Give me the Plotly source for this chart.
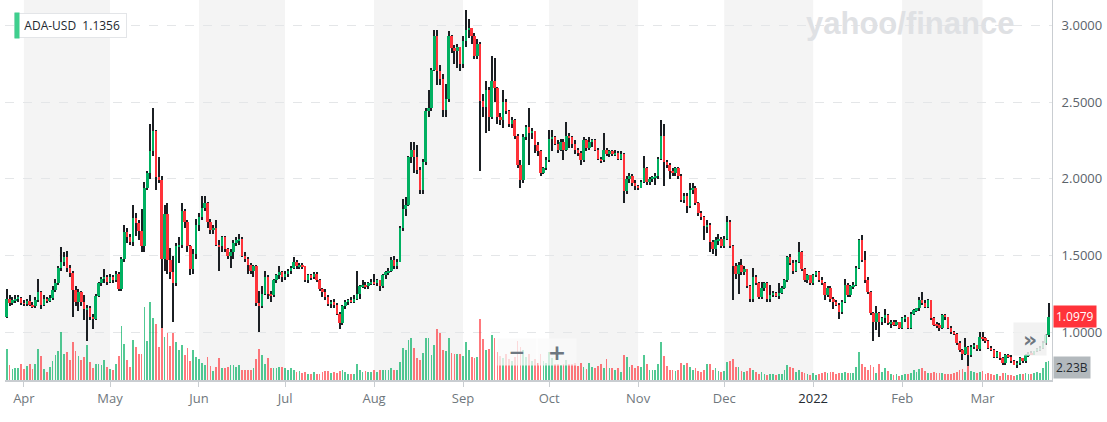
import pandas as pd
import plotly.graph_objects as go

# ---------------- data (ADA-USD daily, 2021-03-26 .. 2022-03-24) ----------------
START_DATE = "2021-03-26"
FIRST_OPEN = 1.10

closes = [
    1.215, 1.19, 1.21, 1.22, 1.225, 1.19, 1.185, 1.205, 1.18, 1.17,
    1.21, 1.26, 1.18, 1.22, 1.205, 1.225, 1.275, 1.32, 1.42, 1.46,
    1.49, 1.42, 1.385, 1.275, 1.195, 1.26, 1.20, 1.15, 1.16, 1.10,
    1.085, 1.235, 1.32, 1.35, 1.36, 1.33, 1.36, 1.34, 1.38, 1.28,
    1.475, 1.655, 1.62, 1.59, 1.745, 1.71, 1.66, 1.56, 1.94, 2.04,
    2.18, 2.31, 2.01, 1.99, 1.48, 1.77, 1.47, 1.39, 1.32, 1.56,
    1.57, 1.79, 1.72, 1.56, 1.41, 1.51, 1.70, 1.75, 1.81, 1.84,
    1.72, 1.665, 1.68, 1.57, 1.56, 1.62, 1.54, 1.50, 1.52, 1.58,
    1.60, 1.61, 1.50, 1.48, 1.44, 1.40, 1.43, 1.19, 1.17, 1.25,
    1.36, 1.25, 1.24, 1.34, 1.37, 1.39, 1.36, 1.38, 1.40, 1.42,
    1.46, 1.43, 1.44, 1.43, 1.34, 1.37, 1.36, 1.38, 1.34, 1.28,
    1.26, 1.23, 1.185, 1.20, 1.18, 1.12, 1.06, 1.17, 1.20, 1.21,
    1.20, 1.22, 1.25, 1.30, 1.31, 1.30, 1.32, 1.33, 1.32, 1.34,
    1.30, 1.37, 1.39, 1.40, 1.47, 1.43, 1.46, 1.68, 1.80, 1.83,
    2.14, 2.19, 2.14, 2.06, 1.93, 2.11, 2.44, 2.46, 2.71, 2.93,
    2.70, 2.65, 2.45, 2.52, 2.93, 2.85, 2.83, 2.86, 2.75, 2.90,
    2.97, 2.98, 2.93, 2.80, 2.88, 2.51, 2.47, 2.58, 2.40, 2.64,
    2.59, 2.40, 2.38, 2.50, 2.44, 2.36, 2.38, 2.28, 2.09, 1.99,
    2.27, 2.34, 2.30, 2.31, 2.22, 2.18, 2.04, 2.07, 2.12, 2.26,
    2.27, 2.23, 2.19, 2.24, 2.19, 2.28, 2.27, 2.23, 2.19, 2.17,
    2.12, 2.25, 2.20, 2.24, 2.25, 2.19, 2.13, 2.12, 2.19, 2.16,
    2.18, 2.16, 2.17, 2.13, 2.16, 1.92, 2.00, 2.02, 1.97, 1.95,
    1.94, 1.98, 2.07, 1.98, 2.00, 2.01, 2.02, 2.13, 2.28, 2.11,
    2.09, 2.05, 2.04, 2.07, 2.02, 1.86, 1.89, 1.82, 1.93, 1.94,
    1.84, 1.78, 1.75, 1.69, 1.70, 1.59, 1.54, 1.60, 1.61, 1.56,
    1.61, 1.72, 1.56, 1.43, 1.38, 1.44, 1.39, 1.41, 1.30, 1.215,
    1.36, 1.32, 1.23, 1.29, 1.32, 1.22, 1.24, 1.255, 1.235, 1.255,
    1.29, 1.34, 1.49, 1.45, 1.40, 1.46, 1.52, 1.41, 1.34, 1.37,
    1.32, 1.37, 1.39, 1.34, 1.32, 1.24, 1.29, 1.22, 1.20, 1.18,
    1.135, 1.20, 1.31, 1.24, 1.30, 1.31, 1.42, 1.60, 1.47, 1.34,
    1.265, 1.125, 1.07, 1.125, 1.07, 1.09, 1.11, 1.06, 1.07, 1.05,
    1.07, 1.03, 1.09, 1.10, 1.03, 1.12, 1.145, 1.155, 1.21, 1.19,
    1.165, 1.21, 1.09, 1.05, 1.045, 1.025, 1.11, 1.10, 1.03, 1.00,
    0.99, 0.93, 0.885, 0.86, 0.905, 0.85, 0.905, 0.915, 0.89, 0.97,
    0.96, 0.94, 0.90, 0.885, 0.84, 0.87, 0.83, 0.80, 0.85, 0.84,
    0.81, 0.79, 0.80, 0.83, 0.81, 0.85, 0.86, 0.855, 0.875, 0.89,
    0.90, 0.93, 0.98, 1.0979,
]

highs = [
    1.28, 1.24, 1.23, 1.24, 1.24, 1.23, 1.21, 1.22, 1.245, 1.20,
    1.23, 1.345, 1.27, 1.24, 1.23, 1.24, 1.30, 1.35, 1.43, 1.555,
    1.52, 1.53, 1.44, 1.40, 1.30, 1.28, 1.27, 1.24, 1.18, 1.17,
    1.12, 1.25, 1.33, 1.36, 1.41, 1.37, 1.38, 1.37, 1.40, 1.39,
    1.49, 1.70, 1.68, 1.64, 1.83, 1.78, 1.73, 1.80, 1.98, 2.05,
    2.36, 2.46, 2.32, 2.14, 2.02, 1.83, 1.84, 1.55, 1.50, 1.58,
    1.62, 1.84, 1.80, 1.73, 1.57, 1.54, 1.74, 1.78, 1.89, 1.89,
    1.85, 1.74, 1.70, 1.73, 1.60, 1.63, 1.63, 1.55, 1.54, 1.60,
    1.62, 1.64, 1.62, 1.52, 1.49, 1.45, 1.44, 1.44, 1.27, 1.30,
    1.40, 1.37, 1.27, 1.35, 1.38, 1.43, 1.40, 1.40, 1.41, 1.43,
    1.49, 1.47, 1.45, 1.45, 1.43, 1.38, 1.38, 1.39, 1.39, 1.35,
    1.29, 1.28, 1.24, 1.21, 1.22, 1.19, 1.13, 1.18, 1.21, 1.22,
    1.23, 1.24, 1.40, 1.31, 1.34, 1.33, 1.33, 1.35, 1.38, 1.35,
    1.34, 1.38, 1.40, 1.42, 1.49, 1.50, 1.48, 1.69, 1.87, 1.88,
    2.15, 2.24, 2.24, 2.22, 2.08, 2.13, 2.46, 2.58, 2.72, 2.97,
    2.97, 2.74, 2.68, 2.62, 2.96, 2.94, 2.87, 2.88, 2.86, 2.93,
    3.10, 3.04, 2.98, 2.95, 2.91, 2.89, 2.55, 2.64, 2.60, 2.80,
    2.79, 2.60, 2.43, 2.58, 2.52, 2.45, 2.40, 2.39, 2.29, 2.12,
    2.29, 2.35, 2.46, 2.33, 2.31, 2.24, 2.19, 2.08, 2.14, 2.32,
    2.32, 2.28, 2.25, 2.26, 2.26, 2.37, 2.30, 2.28, 2.25, 2.20,
    2.18, 2.27, 2.26, 2.27, 2.26, 2.26, 2.20, 2.14, 2.30, 2.20,
    2.19, 2.19, 2.19, 2.18, 2.18, 2.17, 2.02, 2.04, 2.03, 1.99,
    1.96, 1.99, 2.15, 2.08, 2.01, 2.02, 2.04, 2.14, 2.38, 2.36,
    2.12, 2.10, 2.07, 2.08, 2.08, 2.03, 1.91, 1.91, 1.97, 1.97,
    1.95, 1.85, 1.79, 1.76, 1.73, 1.71, 1.60, 1.62, 1.64, 1.62,
    1.63, 1.76, 1.73, 1.57, 1.45, 1.46, 1.48, 1.43, 1.41, 1.31,
    1.42, 1.37, 1.33, 1.33, 1.33, 1.33, 1.31, 1.27, 1.26, 1.32,
    1.30, 1.35, 1.50, 1.51, 1.47, 1.47, 1.59, 1.53, 1.42, 1.38,
    1.37, 1.38, 1.40, 1.40, 1.36, 1.33, 1.30, 1.30, 1.23, 1.21,
    1.19, 1.21, 1.35, 1.32, 1.31, 1.33, 1.43, 1.61, 1.635, 1.53,
    1.36, 1.27, 1.13, 1.17, 1.13, 1.10, 1.15, 1.12, 1.08, 1.08,
    1.08, 1.07, 1.10, 1.11, 1.10, 1.13, 1.15, 1.16, 1.23, 1.26,
    1.21, 1.22, 1.21, 1.10, 1.07, 1.06, 1.12, 1.12, 1.10, 1.04,
    1.01, 0.995, 0.94, 0.89, 0.96, 0.91, 0.92, 0.93, 0.92, 1.00,
    1.00, 0.97, 0.95, 0.91, 0.89, 0.88, 0.87, 0.84, 0.86, 0.86,
    0.85, 0.82, 0.81, 0.84, 0.83, 0.86, 0.87, 0.875, 0.88, 0.90,
    0.91, 0.945, 0.99, 1.19,
]

lows = [
    1.09, 1.17, 1.18, 1.19, 1.20, 1.18, 1.17, 1.17, 1.17, 1.16,
    1.16, 1.20, 1.15, 1.17, 1.19, 1.20, 1.21, 1.26, 1.31, 1.40,
    1.43, 1.39, 1.36, 1.10, 1.17, 1.14, 1.17, 1.08, 0.94, 1.08,
    1.02, 1.08, 1.23, 1.30, 1.32, 1.31, 1.32, 1.32, 1.33, 1.27,
    1.27, 1.46, 1.58, 1.57, 1.56, 1.63, 1.60, 1.52, 1.52, 1.93,
    2.00, 2.15, 1.93, 1.97, 1.03, 1.40, 1.38, 1.35, 1.07, 1.30,
    1.45, 1.55, 1.68, 1.52, 1.37, 1.38, 1.48, 1.66, 1.73, 1.79,
    1.68, 1.64, 1.64, 1.56, 1.40, 1.52, 1.52, 1.48, 1.42, 1.48,
    1.56, 1.57, 1.49, 1.46, 1.38, 1.38, 1.36, 1.17, 1.00, 1.16,
    1.24, 1.22, 1.20, 1.23, 1.32, 1.35, 1.33, 1.34, 1.36, 1.38,
    1.41, 1.41, 1.41, 1.41, 1.33, 1.32, 1.34, 1.35, 1.33, 1.27,
    1.23, 1.21, 1.17, 1.16, 1.16, 1.11, 1.02, 1.05, 1.15, 1.18,
    1.19, 1.19, 1.21, 1.22, 1.29, 1.28, 1.28, 1.31, 1.31, 1.30,
    1.27, 1.29, 1.35, 1.37, 1.39, 1.41, 1.41, 1.46, 1.66, 1.76,
    1.82, 2.10, 2.04, 2.03, 1.90, 1.90, 2.09, 2.40, 2.44, 2.70,
    2.61, 2.61, 2.40, 2.40, 2.50, 2.82, 2.75, 2.72, 2.70, 2.72,
    2.86, 2.92, 2.88, 2.78, 2.78, 2.05, 2.40, 2.30, 2.31, 2.39,
    2.50, 2.36, 2.35, 2.33, 2.42, 2.34, 2.33, 2.26, 2.07, 1.94,
    1.97, 2.25, 2.09, 2.26, 2.17, 2.15, 2.02, 2.03, 2.06, 2.11,
    2.18, 2.22, 2.17, 2.18, 2.12, 2.18, 2.20, 2.20, 2.16, 2.15,
    2.09, 2.11, 2.18, 2.19, 2.21, 2.18, 2.12, 2.10, 2.11, 2.15,
    2.14, 2.15, 2.15, 2.12, 2.12, 1.84, 1.90, 1.97, 1.95, 1.93,
    1.93, 1.94, 1.97, 1.96, 1.96, 1.98, 1.96, 2.00, 2.12, 1.95,
    2.07, 2.00, 2.02, 2.02, 2.00, 1.85, 1.84, 1.78, 1.81, 1.90,
    1.83, 1.76, 1.73, 1.60, 1.65, 1.52, 1.51, 1.50, 1.57, 1.55,
    1.55, 1.60, 1.55, 1.21, 1.35, 1.25, 1.37, 1.37, 1.29, 1.20,
    1.20, 1.31, 1.22, 1.22, 1.27, 1.20, 1.20, 1.23, 1.23, 1.22,
    1.25, 1.28, 1.33, 1.44, 1.38, 1.39, 1.45, 1.40, 1.33, 1.32,
    1.31, 1.31, 1.36, 1.33, 1.31, 1.21, 1.23, 1.20, 1.15, 1.17,
    1.085, 1.12, 1.19, 1.23, 1.23, 1.28, 1.30, 1.41, 1.46, 1.32,
    1.25, 1.11, 0.94, 1.015, 0.97, 1.05, 1.06, 1.05, 1.03, 1.04,
    1.04, 1.02, 1.02, 1.07, 1.02, 1.02, 1.11, 1.13, 1.14, 1.18,
    1.16, 1.16, 1.08, 1.04, 1.03, 1.01, 1.02, 1.08, 1.02, 0.99,
    0.98, 0.92, 0.87, 0.82, 0.85, 0.78, 0.84, 0.89, 0.88, 0.88,
    0.94, 0.93, 0.89, 0.88, 0.83, 0.83, 0.82, 0.79, 0.79, 0.83,
    0.80, 0.785, 0.77, 0.79, 0.80, 0.80, 0.84, 0.85, 0.85, 0.87,
    0.88, 0.89, 0.92, 0.97,
]

volumes_bn = [
    3.6, 1.75, 1.3, 1.4, 1.4, 1.85, 1.3, 1.65, 1.85, 1.25,
    1.8, 3.6, 2.75, 1.3, 0.95, 1.5, 2.2, 2.85, 3.4, 5.6,
    3.05, 3.25, 2.3, 4.35, 3.35, 2.8, 2.3, 2.6, 4.1, 2.05,
    1.4, 1.8, 1.8, 1.75, 2.3, 1.5, 1.3, 1.1, 1.8, 2.8,
    6.2, 4.2, 2.3, 1.5, 4.65, 3.8, 3.05, 3.05, 8.45, 4.45,
    9.0, 7.2, 6.5, 3.85, 9.6, 5.0, 5.4, 3.9, 5.4, 4.35,
    3.45, 4.0, 2.85, 3.75, 2.2, 3.45, 2.7, 2.4, 1.95, 1.7,
    2.7, 1.6, 1.0, 1.55, 2.5, 1.35, 1.35, 1.55, 1.7, 1.7,
    1.55, 1.7, 1.2, 1.1, 1.1, 1.15, 1.35, 2.4, 3.55, 2.9,
    1.9, 2.5, 1.35, 1.35, 1.35, 1.5, 1.55, 1.35, 1.2, 1.35,
    1.2, 0.95, 1.05, 0.85, 0.95, 0.7, 0.75, 0.95, 0.7, 0.75,
    0.95, 1.05, 1.05, 0.85, 0.95, 0.85, 1.08, 1.2, 0.95, 0.7,
    0.75, 0.75, 1.85, 1.15, 0.95, 1.05, 0.95, 0.95, 1.1, 0.95,
    1.1, 1.2, 1.15, 1.2, 1.35, 1.2, 1.1, 2.1, 3.65, 3.45,
    4.6, 4.8, 3.65, 2.5, 2.3, 3.1, 4.9, 4.9, 2.9, 4.0,
    5.85, 5.45, 3.45, 3.3, 4.8, 3.1, 3.0, 3.0, 3.0, 2.75,
    4.4, 3.45, 2.65, 2.5, 2.65, 7.0, 4.7, 3.5, 3.6, 5.2,
    4.8, 3.2, 2.8, 2.5, 3.0, 2.4, 2.2, 2.6, 4.5, 3.8,
    3.5, 2.6, 3.0, 2.2, 2.4, 2.0, 3.0, 2.2, 2.0, 3.2,
    2.5, 1.8, 1.9, 1.7, 1.8, 2.3, 1.8, 1.9, 2.0, 1.6,
    2.0, 1.55, 1.25, 2.0, 1.55, 1.35, 1.6, 1.8, 1.35, 2.4,
    1.4, 1.35, 1.15, 1.35, 0.95, 2.9, 2.7, 1.55, 1.75, 1.35,
    1.6, 1.55, 2.9, 1.9, 1.2, 1.2, 1.15, 1.9, 4.35, 2.8,
    1.6, 1.2, 1.15, 1.0, 1.2, 2.0, 1.75, 2.0, 1.55, 1.2,
    1.35, 1.0, 0.95, 1.2, 1.8, 1.8, 1.2, 1.35, 1.0, 0.95,
    1.0, 2.1, 2.2, 2.4, 1.55, 1.55, 1.0, 0.95, 1.0, 1.35,
    1.2, 0.95, 0.75, 0.95, 0.75, 0.6, 0.7, 0.7, 0.6, 0.7,
    0.75, 1.1, 1.75, 1.55, 1.35, 0.95, 1.15, 0.95, 0.77, 0.65,
    0.58, 0.77, 0.58, 0.69, 0.85, 0.96, 0.85, 0.96, 0.89, 0.69,
    0.85, 0.85, 0.96, 0.85, 0.77, 0.77, 1.55, 3.2, 1.9, 1.46,
    1.15, 1.73, 1.54, 0.77, 1.85, 0.96, 1.35, 1.08, 0.69, 0.58,
    0.69, 0.5, 0.58, 0.69, 0.65, 0.85, 1.15, 0.96, 1.23, 1.35,
    1.08, 0.85, 0.85, 0.96, 0.85, 0.77, 0.77, 0.69, 0.65, 0.69,
    0.77, 0.96, 1.15, 1.23, 0.96, 2.5, 1.04, 0.96, 0.85, 0.96,
    1.08, 0.69, 0.77, 0.69, 0.58, 0.65, 0.5, 0.77, 0.77, 0.58,
    0.58, 0.46, 0.58, 0.69, 0.65, 0.77, 0.69, 0.69, 0.77, 0.96,
    0.77, 1.35, 2.05, 2.23,
]

month_ticks = ["2021-04-01", "2021-05-01", "2021-06-01", "2021-07-01", "2021-08-01",
               "2021-09-01", "2021-10-01", "2021-11-01", "2021-12-01", "2022-01-01",
               "2022-02-01", "2022-03-01"]
month_labels = ["Apr", "May", "Jun", "Jul", "Aug", "Sep", "Oct", "Nov", "Dec",
                "<span style='color:#232a31'>2022</span>", "Feb", "Mar"]
shaded_months = [("2021-04-01", "2021-05-01"), ("2021-06-01", "2021-07-01"),
                 ("2021-08-01", "2021-09-01"), ("2021-10-01", "2021-11-01"),
                 ("2021-12-01", "2022-01-01"), ("2022-02-01", "2022-03-01")]
price_ticks = [1.0, 1.5, 2.0, 2.5, 3.0]
SYMBOL = "ADA-USD"
LEGEND_VALUE = "1.1356"
LAST_PRICE = closes[-1]
LAST_VOLUME_LABEL = "2.23B"

# ---------------- derived ----------------
dates = pd.date_range(START_DATE, periods=len(closes), freq="D")
# crypto trades around the clock: each daily candle opens at the prior close
opens = [FIRST_OPEN] + closes[:-1]
volumes = [v * 1e9 for v in volumes_bn]

UP, DOWN = "#00b061", "#ff333a"
UP_VOL, DOWN_VOL = "rgba(0,176,97,0.68)", "rgba(255,51,58,0.66)"
is_up = [c >= o for o, c in zip(opens, closes)]

DAY_MS = 86400000
fig = go.Figure()

# volume (main hidden axis, drawn first)
fig.add_trace(go.Bar(
    x=dates, y=volumes, yaxis="y", width=0.62 * DAY_MS,
    marker=dict(color=[UP_VOL if u else DOWN_VOL for u in is_up], line=dict(width=0)),
    hoverinfo="skip", showlegend=False))

# wicks (thin bars, so bodies stack on top of them in trace order)
fig.add_trace(go.Bar(
    x=dates, base=lows, y=[h - l for h, l in zip(highs, lows)],
    yaxis="y2", width=0.36 * DAY_MS,
    marker=dict(color="#1b1f23", line=dict(width=0)),
    hoverinfo="skip", showlegend=False))

# bodies
fig.add_trace(go.Bar(
    x=dates, base=[min(o, c) for o, c in zip(opens, closes)],
    y=[max(abs(c - o), 0.005) for o, c in zip(opens, closes)],
    yaxis="y2", width=0.86 * DAY_MS,
    marker=dict(color=[UP if u else DOWN for u in is_up], line=dict(width=0)),
    hoverinfo="skip", showlegend=False))

W, H = 1107, 422
ML, MR, MT, MB = 5, 55, 0, 42
PW, PH = W - ML - MR, H - MT - MB

def px_x(px):
    return (px - ML) / PW

def px_y(py):
    return 1 - (py - MT) / PH

shapes = []
for a, b in shaded_months:
    shapes.append(dict(type="rect", xref="x", yref="paper", x0=a, x1=b, y0=0, y1=1,
                       fillcolor="#f4f4f4", line=dict(width=0), layer="below"))

annotations = [
    # legend chip: white box + green marker
    dict(xref="paper", yref="paper", x=px_x(14), y=px_y(25.5), xanchor="left", yanchor="middle",
         text=f"&nbsp;&nbsp;&nbsp;{SYMBOL}&nbsp;&nbsp;{LEGEND_VALUE}", showarrow=False, height=23,
         font=dict(family="Open Sans", size=12, color="#232a31"), align="left",
         bgcolor="white", bordercolor="#e3e5e8", borderwidth=1, borderpad=0,
         width=111),
    dict(xref="paper", yref="paper", x=px_x(14), y=px_y(25.5), xanchor="left", yanchor="middle",
         text=" ", showarrow=False, width=4, height=25,
         font=dict(size=12), bgcolor="#3fcf8e", borderpad=0),
    dict(xref="paper", yref="paper", x=px_x(910), y=px_y(24), xanchor="center", yanchor="middle",
         text="<b>yahoo/finance</b>", showarrow=False,
         font=dict(family="Liberation Sans", size=31, color="#dfe1e4")),
    dict(xref="paper", yref="paper", x=px_x(517), y=px_y(352), xanchor="center", yanchor="middle",
         text="<b>−</b>", showarrow=False, width=36, height=24,
         font=dict(family="DejaVu Sans", size=20, color="#6e7780"),
         bgcolor="rgba(250,250,250,0.75)"),
    dict(xref="paper", yref="paper", x=px_x(557), y=px_y(352), xanchor="center", yanchor="middle",
         text="<b>+</b>", showarrow=False, width=36, height=24,
         font=dict(family="DejaVu Sans", size=22, color="#6e7780"),
         bgcolor="rgba(250,250,250,0.75)"),
    dict(xref="paper", yref="paper", x=px_x(1030), y=px_y(339), xanchor="center", yanchor="middle",
         text="<b>»</b>", showarrow=False, width=30, height=30,
         font=dict(family="DejaVu Sans", size=22, color="#6e7780"),
         bgcolor="rgba(240,240,240,0.85)"),
    dict(xref="paper", yref="y2", x=1, y=LAST_PRICE, xanchor="left", yanchor="middle",
         text=f"{LAST_PRICE:.4f}", showarrow=False, xshift=1, yshift=1,
         font=dict(family="Open Sans", size=12, color="white"),
         bgcolor="#ff333a", borderpad=2),
    dict(xref="paper", yref="y", x=1, y=volumes[-1], xanchor="left", yanchor="middle",
         text=LAST_VOLUME_LABEL, showarrow=False, xshift=1, yshift=-7,
         font=dict(family="Open Sans", size=12, color="#232a31"),
         bgcolor="#b3b9bd", borderpad=2),
]

fig.update_layout(
    width=W, height=H,
    margin=dict(l=ML, r=MR, t=MT, b=MB),
    paper_bgcolor="white", plot_bgcolor="white",
    barmode="overlay", bargap=0, showlegend=False,
    xaxis=dict(
        type="date",
        range=[dates[0] - pd.Timedelta(hours=14), dates[-1] + pd.Timedelta(hours=29)],
        tickvals=month_ticks, ticktext=month_labels,
        showgrid=False, zeroline=False,
        showline=True, linecolor="#c9cdd1", linewidth=2,
        ticks="outside", ticklen=5, tickcolor="#c9cdd1", tickwidth=1,
        tickfont=dict(family="Open Sans", size=13, color="#6f777d"),
        fixedrange=True,
    ),
    yaxis=dict(range=[0, 43.9e9], visible=False, fixedrange=True),
    yaxis2=dict(
        overlaying="y", side="right",
        range=[0.689, 3.165],
        tickvals=price_ticks, tickformat=".4f",
        showgrid=True, gridcolor="#e4e6e8", griddash="dash", gridwidth=1,
        zeroline=False, showline=True, linecolor="#c9cdd1", linewidth=1,
        ticks="", ticklabelstandoff=6,
        tickfont=dict(family="Open Sans", size=13, color="#5b636a"),
        fixedrange=True,
    ),
    shapes=shapes, annotations=annotations,
)

fig.write_html("out.html")
